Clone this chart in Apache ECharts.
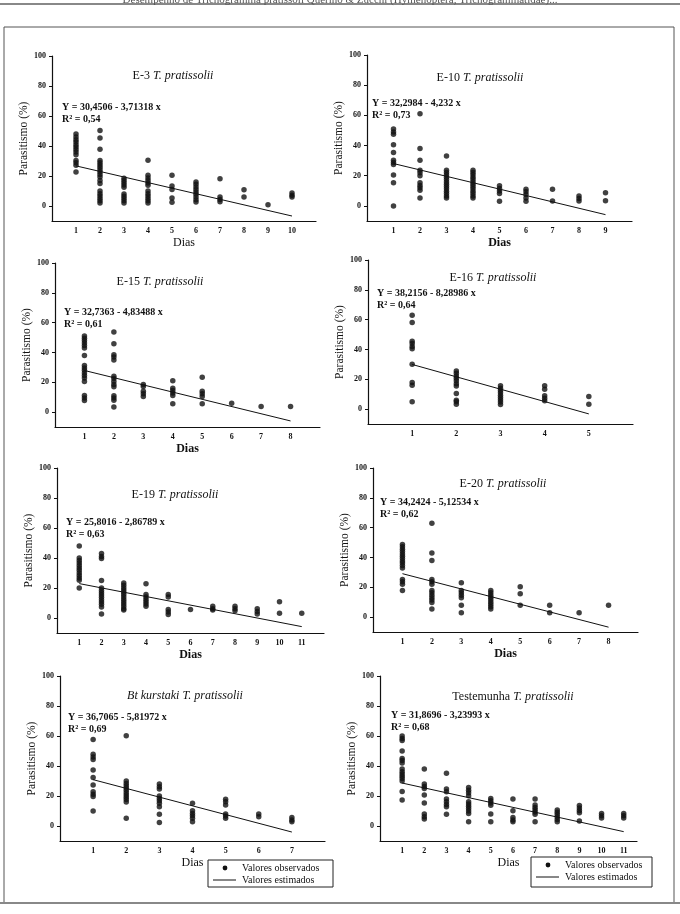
<!DOCTYPE html>
<html><head><meta charset="utf-8">
<script src="https://cdn.jsdelivr.net/npm/echarts@6/dist/echarts.min.js"></script>
<style>html,body{margin:0;padding:0;background:#fff}#c{width:680px;height:914px}</style>
</head><body><div id="c"></div>
<script>
// ---- Data: values per day (index 0 = day 1) ----
const e3 = [
  [48,46,44.2,42.7,40.9,39.3,37.6,36,34.2,30.4,28.9,27.1,22.7],
  [50.4,45.3,37.8,30.4,28.8,27.3,25.8,24.2,22.7,21,19.3,17,15,10,8.2,6.7,5,3.5,2],
  [18.5,17,15.5,14,12.5,8,6.5,5,3.5,2],
  [30.5,20.5,18.7,17,15.3,13.8,10,8.2,6.7,5,3.5,2],
  [20.5,13.3,11,5.3,2.5],
  [16,14.5,12.7,11,9.3,7.8,6,4.2,2.7],
  [18.2,6,4.4,2.9],
  [10.9,6],
  [0.9],
  [8.7,7.1,6]
];
const e10 = [
  [51,49,47.5,40.5,35.4,30.3,28.8,27.4,20.4,15.3,0],
  [61,38,30.3,23.7,22,20,15.3,13.5,12,10.4,5.3],
  [33,23.7,22.1,20.6,19,17.5,15.9,14.4,12.8,11.3,9.7,8.2,6.6,5.3],
  [23.7,22.1,20.6,19,17.5,15.9,14.4,12.8,11.3,9.7,8.2,6.6,5.3],
  [13.3,11.5,9.8,8.2,3.1],
  [11,9.3,7.5,5.3,3.1],
  [11,3.3],
  [6.6,4.9,3.3],
  [8.8,3.5]
];
const e15 = [
  [51,49.5,48,46.3,44.7,43,38,31.3,29.5,28,26.2,24.6,22.8,20.6,11.2,9.4,7.8],
  [53.7,45.9,38.5,37,35,24,22.5,20.5,18.5,17,11,9.5,8,3.4],
  [18.5,17.2,14,12.3,10.5],
  [21,16,14.5,12.8,11.2,5.6],
  [23.3,13.9,12.3,10.5,5.6],
  [6],
  [3.8],
  [3.8]
];
const e16 = [
  [63,58,45.5,44,42,40.5,30,17.8,16,5],
  [25.5,24,22.2,20.7,19,17,15.5,10.4,6,5,3.3],
  [15.6,14,12.4,10.9,9.3,7.8,6.2,4.7,3.1],
  [15.6,13.3,8.9,7.3,5.6],
  [8.4,3.3]
];
const e19 = [
  [48,40,38.4,36.7,35,33.3,31.8,30,28.4,26.7,25.1,20],
  [43,41,39.6,25,20,18.4,16.9,15.3,13.8,12.2,10.7,9.1,7.3,2.7],
  [23.3,21.8,20.2,18.7,17.1,15.6,14,12.4,10.9,9.3,7.8,6.2,5.3],
  [22.9,15.6,14,12.4,10.9,9.3,7.8],
  [15.6,14,5.6,4,2.4],
  [5.6],
  [7.8,6.2,5.3],
  [7.8,6.2,4.9],
  [6.2,4.4,2.7],
  [10.9,3.1],
  [3.1]
];
const e20 = [
  [48.7,47.1,45.5,44,42.4,40.8,39.3,37.7,36.2,34.6,33,25.2,23.7,22.1,17.9],
  [63,43,38,25.2,23.7,22.1,17.9,16.3,14.7,12.9,11.4,9.8,5.4],
  [23,17.9,16.3,14.7,12.9,8,2.9],
  [17.9,16.3,14.7,13.2,11.6,10,8.5,6.9,5.4],
  [20.3,15.6,8],
  [8,2.9],
  [2.9],
  [8]
];
const btk = [
  [57.6,47.8,46,44.4,37.3,32.4,27.3,22.9,21.1,19.6,10],
  [60.2,30,28.4,26.9,25.3,23.8,22.2,20.7,19.1,17.6,16,5.1],
  [28,26.2,24.7,20,18.4,16.9,15.1,12.9,7.8,2.4],
  [15.1,10.2,8.4,6.9,5.1,2.9],
  [17.8,16.2,14,8,6.7,5.1],
  [8,6.2],
  [5.6,4,2.9]
];
const test = [
  [60,58.4,57,50,45,43.6,42,38,36.2,34.7,33.1,31.6,30,23,17.3],
  [38,28,26.4,25,20.7,15.3,8,6.2,4.7],
  [35.1,24.7,22.9,18,16.2,14.4,12.9,7.8],
  [25.6,23.8,22.2,20.2,16.2,14.7,13.1,11.6,10,8.4,2.9],
  [18.4,16.9,15.3,13.8,8,2.9],
  [18,10.2,5.6,4,2.9],
  [18,14,12.4,10.9,9.3,7.8,2.9],
  [10.7,9.1,7.6,6,4.4,2.9],
  [13.6,12,10.4,8.9,3.3],
  [8.4,6.9,5.3],
  [8.4,6.9,5.3]
];
// fitted lines: [first day, value], [last day, value]
const lineE3   = [[1,26.74],[10,-6.68]];
const lineE10  = [[1,28.07],[9,-5.79]];
const lineE15  = [[1,27.90],[8,-5.94]];
const lineE16  = [[1,29.93],[5,-3.23]];
const lineE19  = [[1,22.93],[11,-5.74]];
const lineE20  = [[1,29.12],[8,-6.76]];
const lineBtk  = [[1,30.89],[7,-4.03]];
const lineTest = [[1,28.63],[11,-3.77]];

const titlePrefix = ['E-3','E-10','E-15','E-16','E-19','E-20','Bt kurstaki','Testemunha'];
const equations = ['Y = 30,4506 - 3,71318 x','Y = 32,2984 - 4,232 x','Y = 32,7363 - 4,83488 x','Y = 38,2156 - 8,28986 x',
                   'Y = 25,8016 - 2,86789 x','Y = 34,2424 - 5,12534 x','Y = 36,7065 - 5,81972 x','Y = 31,8696 - 3,23993 x'];
const r2Labels = ['0,54','0,73','0,61','0,64','0,63','0,62','0,69','0,68'];
const yTicks = [0,20,40,60,80,100];
const xAxisMax = [11,10,9,6,12,9,8,11.6];

// ---- Layout ----
const allData = [e3,e10,e15,e16,e19,e20,btk,test];
const allLines = [lineE3,lineE10,lineE15,lineE16,lineE19,lineE20,lineBtk,lineTest];
const grids = [ // left, top, width, height
  [52,56,264,165],[367,55,265,166],
  [55,263,265,164],[368,260,265,164],
  [57,468,267,165],[373,468,265,164],
  [60,676,265,165],[380,676,257,165]
];
const titlePos = [[173,77],[480,79],[160,283],[493,279],[175,496],[503,485],[185,697],[513,698]];
const eqPos = [[62,107],[372,103],[64,312],[377,293],[66,522],[380,502],[68,717],[391,715]];
const showDias = [true,true,true,false,true,true,true,true];
const SERIF = '"Liberation Serif","DejaVu Serif",serif';

const option = {
  backgroundColor:'#fff', animation:false,
  grid:[], xAxis:[], yAxis:[], series:[], title:[], graphic:[]
};

allData.forEach((panel,i)=>{
  const g = grids[i];
  option.grid.push({left:g[0],top:g[1],width:g[2],height:g[3],containLabel:false});
  const days = panel.map((_,d)=>d+1);
  option.xAxis.push({
    type:'value', gridIndex:i, min:0, max:xAxisMax[i],
    axisLine:{show:true,onZero:false,lineStyle:{color:'#111',width:1.2}},
    axisTick:{show:false},
    axisLabel:{customValues:days,margin:6,color:'#111',fontFamily:SERIF,fontWeight:'bold',fontSize:8},
    splitLine:{show:false},
    name: showDias[i] ? 'Dias' : '',
    nameLocation:'middle', nameGap:16,
    nameTextStyle:{color:'#111',fontFamily:SERIF,fontSize:12, fontWeight: (i===0||i>=6)?'normal':'bold'}
  });
  option.yAxis.push({
    type:'value', gridIndex:i, min:-10, max:100,
    axisLine:{show:true,lineStyle:{color:'#111',width:1.2}},
    axisTick:{show:true,customValues:yTicks,length:3,lineStyle:{color:'#111'}},
    axisLabel:{customValues:yTicks,margin:6,color:'#111',fontFamily:SERIF,fontWeight:'bold',fontSize:8},
    splitLine:{show:false},
    name:'Parasitismo (%)', nameLocation:'middle', nameGap:20, nameRotate:90,
    nameTextStyle:{color:'#111',fontFamily:SERIF,fontSize:11.5}
  });
  const pts = [];
  panel.forEach((vals,d)=>vals.forEach(v=>pts.push([d+1,v])));
  option.series.push({
    type:'scatter', name:'Valores observados', xAxisIndex:i, yAxisIndex:i,
    data:pts, symbol:'circle', symbolSize:5.5, itemStyle:{color:'#111'}, silent:true
  });
  option.series.push({
    type:'line', name:'Valores estimados', xAxisIndex:i, yAxisIndex:i,
    data:allLines[i], symbol:'none', lineStyle:{color:'#111',width:1}, silent:true
  });
  const italicAll = i===6;
  option.title.push({
    text: italicAll ? '{i|'+titlePrefix[i]+' T. pratissolii}' : '{n|'+titlePrefix[i]+' }{i|T. pratissolii}',
    left: titlePos[i][0], top: titlePos[i][1]-7, textAlign:'center', padding:0,
    textStyle:{fontWeight:'normal',rich:{
      n:{fontFamily:SERIF,fontSize:12,fontWeight:'normal',color:'#111'},
      i:{fontFamily:SERIF,fontSize:12,fontWeight:'normal',fontStyle:'italic',color:'#111'}
    }}
  });
  option.graphic.push({type:'text',x:eqPos[i][0],y:eqPos[i][1],
    style:{text:equations[i],font:'bold 10px '+SERIF,fill:'#111',verticalAlign:'middle'}});
  option.graphic.push({type:'text',x:eqPos[i][0],y:eqPos[i][1]+12,
    style:{text:'R² = '+r2Labels[i],font:'bold 10px '+SERIF,fill:'#111',verticalAlign:'middle'}});
});

// legends (bottom panels)
[[208,860,125,27],[531,857,121,30]].forEach(b=>{
  option.graphic.push({type:'rect',shape:{x:b[0],y:b[1],width:b[2],height:b[3]},
    style:{fill:'#fff',stroke:'#222',lineWidth:1}});
  const cy1 = b[1]+8, cy2 = b[1]+20;
  option.graphic.push({type:'circle',shape:{cx:b[0]+17,cy:cy1,r:2.4},style:{fill:'#111'}});
  option.graphic.push({type:'line',shape:{x1:b[0]+5,y1:cy2,x2:b[0]+28,y2:cy2},style:{stroke:'#111',lineWidth:1}});
  option.graphic.push({type:'text',x:b[0]+34,y:cy1,style:{text:'Valores observados',font:'10px '+SERIF,fill:'#111',verticalAlign:'middle'}});
  option.graphic.push({type:'text',x:b[0]+34,y:cy2,style:{text:'Valores estimados',font:'10px '+SERIF,fill:'#111',verticalAlign:'middle'}});
});
// page frame & header
option.graphic.push({type:'rect',shape:{x:4,y:27,width:670,height:876},style:{fill:'none',stroke:'#555',lineWidth:1},z:-1});
option.graphic.push({type:'line',shape:{x1:0,y1:903,x2:680,y2:903},style:{stroke:'#888',lineWidth:2}});
option.graphic.push({type:'line',shape:{x1:0,y1:4,x2:680,y2:4},style:{stroke:'#888',lineWidth:2}});
option.graphic.push({type:'text',x:340,y:0,style:{text:'Desempenho de Trichogramma pratissoli Querino & Zucchi (Hymenoptera, Trichogrammatidae)...',
  font:'11px '+SERIF,fill:'#555',align:'center',verticalAlign:'middle'}});

const chart = echarts.init(document.getElementById('c'),null,{renderer:'canvas'});
chart.setOption(option);
</script></body></html>
